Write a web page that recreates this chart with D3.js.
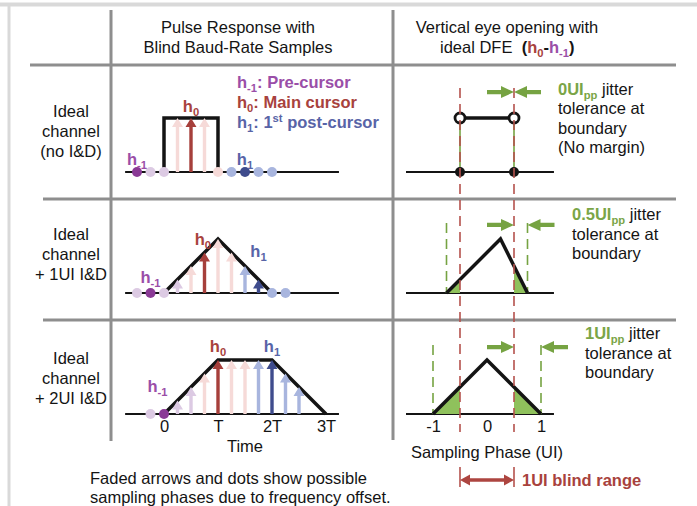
<!DOCTYPE html>
<html><head><meta charset="utf-8">
<script src="https://cdn.jsdelivr.net/npm/d3@7"></script>
<style>
html,body{margin:0;padding:0;background:#fff;}
svg{display:block;font-family:Arial,"Liberation Sans",Helvetica,sans-serif;}
</style></head><body>
<svg id="chart" width="697" height="506"></svg>
<script>
// ---------------- data ----------------
const rowLabels = [
  ["Ideal", "channel", "(no I&D)"],
  ["Ideal", "channel", "+ 1UI I&D"],
  ["Ideal", "channel", "+ 2UI I&D"]
];

// pulse responses (time in T, amplitude normalised to main cursor)
const pulseShape1 = [[0, 0], [0, 1], [1, 1], [1, 0]];
const pulseShape2 = [[0, 0], [1, 1], [2, 0]];
const pulseShape3 = [[0, 0], [1, 1], [2, 1], [3, 0]];

// baud-rate samples: time, value, role (F = possible phase under frequency offset)
const sampleTimes1  = [-0.5, -0.25, 0, 0.25, 0.5, 0.75, 1, 1.25, 1.5, 1.75, 2];
const sampleValues1 = [0, 0, 0, 1, 1, 1, 0, 0, 0, 0, 0];
const sampleRoles1  = ["pre", "preF", "preF", "mainF", "main", "mainF", "mainF", "postF", "post", "postF", "postF"];

const sampleTimes2  = [-0.5, -0.25, 0, 0.25, 0.5, 0.75, 1, 1.25, 1.5, 1.75, 2, 2.25];
const sampleValues2 = [0, 0, 0, 0.25, 0.5, 0.75, 1, 0.75, 0.5, 0.25, 0, 0];
const sampleRoles2  = ["preF", "pre", "preF", "preF", "mainF", "main", "mainF", "mainF", "postF", "post", "postF", "postF"];

const sampleTimes3  = [-0.25, 0, 0.25, 0.5, 0.75, 1, 1.25, 1.5, 1.75, 2, 2.25, 2.5];
const sampleValues3 = [0, 0, 0.25, 0.5, 0.75, 1, 1, 1, 1, 1, 0.75, 0.5];
const sampleRoles3  = ["preF", "pre", "preF", "preF", "mainF", "main", "mainF", "mainF", "postF", "post", "postF", "postF"];

// cursor label anchors [time, value]
const cursorLabelPos1 = {pre: [-0.5, 0.13], main: [0.5, 1.11], post: [1.5, 0.13]};
const cursorLabelPos2 = {pre: [-0.25, 0.185], main: [0.72, 0.89], post: [1.75, 0.67]};
const cursorLabelPos3 = {pre: [-0.12, 0.41], main: [1.0, 1.15], post: [2.0, 1.15]};

const timeTicks = [0, 1, 2, 3];
const timeTickLabels = ["0", "T", "2T", "3T"];

// vertical eye opening (h0 - h-1) versus sampling phase in UI
const eyeOpen1 = [[-0.5, 1], [0.5, 1]];
const eyeShape2 = [[-0.75, 0], [0.25, 1], [0.75, 0]];
const eyeShape3 = [[-1, 0], [0, 1], [1, 0]];
const marginArea2 = [[[-0.75, 0], [-0.5, 0.25], [-0.5, 0]], [[0.5, 0], [0.5, 0.5], [0.75, 0]]];
const marginArea3 = [[[-1, 0], [-0.5, 0.5], [-0.5, 0]], [[0.5, 0], [0.5, 0.5], [1, 0]]];
const jitterTolerance = [0, 0.5, 1];          // UIpp
const toleranceLabels = ["0UI", "0.5UI", "1UI"];
const blindRange = [-0.5, 0.5];
const phaseTicks = [-1, 0, 1];
const phaseTickLabels = ["-1", "0", "1"];

// ---------------- layout ----------------
const INK = "#141414", GRID = "#8e8e8e", FRAME = "#d9d9d9";
const FS = 16.5;
const C = {
  pre: "#8a3a96", preF: "#dccae3", main: "#a63f3b", mainF: "#f6dad8",
  post: "#3f4c8d", postF: "#a8b5de",
  preText: "#9a4ea8", mainText: "#a8423d", postText: "#5864a7",
  green: "#76a342", greenText: "#7aa547", shade: "#8fc15c", redDash: "#b5524d"
};
const rowBase = [172, 293, 414];
const AMP = 54;
const xT = d3.scaleLinear().domain([0, 3]).range([164, 326]);
const xU = d3.scaleLinear().domain([-1, 1]).range([433, 541]);
const yRow = i => d3.scaleLinear().domain([0, 1]).range([rowBase[i], rowBase[i] - AMP]);

const svg = d3.select("#chart");

function rich(sel, x, y, parts, base) {
  const size = base.size || FS;
  const t = sel.append("text").attr("x", x).attr("y", y)
    .attr("font-size", size).attr("font-weight", base.weight || "normal")
    .attr("fill", base.fill || INK).style("white-space", "pre");
  if (base.anchor) t.attr("text-anchor", base.anchor);
  let shift = 0;
  parts.forEach(p => {
    const s = typeof p === "string" ? {t: p} : p;
    const target = s.sub ? 4 : s.sup ? -6 : 0;
    const ts = t.append("tspan").text(s.t).attr("dy", target - shift);
    shift = target;
    if (s.sub || s.sup) ts.attr("font-size", size * 0.68);
    if (s.fill) ts.attr("fill", s.fill);
    if (s.weight) ts.attr("font-weight", s.weight);
  });
  return t;
}

function hArrow(sel, x0, x1, y, o) {
  const d = Math.sign(x1 - x0), xh = x1 - d * o.head;
  const pts = [[x0, y - o.shaft], [xh, y - o.shaft], [xh, y - o.wing], [x1, y],
               [xh, y + o.wing], [xh, y + o.shaft], [x0, y + o.shaft]];
  sel.append("polygon").attr("points", pts.map(p => p.join(",")).join(" ")).attr("fill", o.color);
}
function vArrow(sel, x, y0, y1, o) {
  const yh = y1 + o.head;
  const pts = [[x - o.shaft, y0], [x - o.shaft, yh], [x - o.wing, yh], [x, y1],
               [x + o.wing, yh], [x + o.shaft, yh], [x + o.shaft, y0]];
  sel.append("polygon").attr("points", pts.map(p => p.join(",")).join(" ")).attr("fill", o.color);
}

// ---------------- frame & grid ----------------
svg.append("line").attr("x1", 0).attr("x2", 697).attr("y1", 4.5).attr("y2", 4.5)
  .attr("stroke", FRAME).attr("stroke-width", 4);
svg.append("line").attr("x1", 9).attr("x2", 9).attr("y1", 4).attr("y2", 506)
  .attr("stroke", FRAME).attr("stroke-width", 3);
[[111, 10, 111, 441], [393, 10, 393, 440], [30, 65, 676, 65], [43, 199, 676, 199], [43, 320, 676, 320]]
  .forEach(([x1, y1, x2, y2]) => svg.append("line").attr("x1", x1).attr("y1", y1).attr("x2", x2).attr("y2", y2)
    .attr("stroke", GRID).attr("stroke-width", 3));

// ---------------- column headers ----------------
rich(svg, 238, 33, ["Pulse Response with"], {anchor: "middle"});
rich(svg, 238, 52.5, ["Blind Baud-Rate Samples"], {anchor: "middle"});
rich(svg, 507, 33, ["Vertical eye opening with"], {anchor: "middle"});
rich(svg, 440, 53, [
  "ideal DFE  ", {t: "(", weight: "bold"}, {t: "h", weight: "bold", fill: C.mainText},
  {t: "0", sub: true, weight: "bold", fill: C.mainText}, {t: "-", weight: "bold"},
  {t: "h", weight: "bold", fill: C.preText}, {t: "-1", sub: true, weight: "bold", fill: C.preText},
  {t: ")", weight: "bold"}
], {});

// ---------------- row labels ----------------
const rowLabelTop = [117, 240, 364];
rowLabels.forEach((lines, i) => lines.forEach((s, k) =>
  rich(svg, 71, rowLabelTop[i] + k * 19.8, [s], {anchor: "middle"})));

// ---------------- pulse responses ----------------
const pulses = [
  {shape: pulseShape1, t: sampleTimes1, v: sampleValues1, r: sampleRoles1, lab: cursorLabelPos1},
  {shape: pulseShape2, t: sampleTimes2, v: sampleValues2, r: sampleRoles2, lab: cursorLabelPos2},
  {shape: pulseShape3, t: sampleTimes3, v: sampleValues3, r: sampleRoles3, lab: cursorLabelPos3}
];
pulses.forEach((p, i) => {
  const y = yRow(i);
  const g = svg.append("g");
  g.append("line").attr("x1", xT(-0.72)).attr("x2", xT(3.24)).attr("y1", y(0)).attr("y2", y(0))
    .attr("stroke", INK).attr("stroke-width", 2);
  g.append("path").attr("d", d3.line().x(d => xT(d[0])).y(d => y(d[1]))(p.shape))
    .attr("fill", "none").attr("stroke", INK).attr("stroke-width", 3.5).attr("stroke-linejoin", "miter");
  p.t.forEach((t, j) => {
    if (p.v[j] > 0) vArrow(g, xT(t), y(0), y(p.v[j]), {shaft: 1.7, wing: 5.5, head: 9, color: C[p.r[j]]});
  });
  p.t.forEach((t, j) => {
    if (p.v[j] === 0) g.append("circle").attr("cx", xT(t)).attr("cy", y(0)).attr("r", 5).attr("fill", C[p.r[j]]);
  });
  const L = p.lab;
  rich(g, xT(L.pre[0]), y(L.pre[1]), ["h", {t: "-1", sub: true}], {anchor: "middle", weight: "bold", fill: C.preText});
  rich(g, xT(L.main[0]), y(L.main[1]), ["h", {t: "0", sub: true}], {anchor: "middle", weight: "bold", fill: C.mainText});
  rich(g, xT(L.post[0]), y(L.post[1]), ["h", {t: "1", sub: true}], {anchor: "middle", weight: "bold", fill: C.postText});
});

// legend of cursors
rich(svg, 237, 88, ["h", {t: "-1", sub: true}, ": Pre-cursor"], {weight: "bold", fill: C.preText});
rich(svg, 237, 108, ["h", {t: "0", sub: true}, ": Main cursor"], {weight: "bold", fill: C.mainText});
rich(svg, 237, 127.5, ["h", {t: "1", sub: true}, ": 1", {t: "st", sup: true}, " post-cursor"], {weight: "bold", fill: C.postText});

// time axis
const tAxis = svg.append("g").attr("transform", `translate(0,${rowBase[2]})`)
  .call(d3.axisBottom(xT).tickValues(timeTicks).tickFormat((d, i) => timeTickLabels[i]).tickSize(0));
tAxis.select(".domain").remove();
tAxis.selectAll("text").attr("y", 18).attr("dy", 0).attr("font-size", FS)
  .attr("font-family", "Arial, 'Liberation Sans', sans-serif").attr("fill", INK);
rich(svg, 245, 452, ["Time"], {anchor: "middle"});

// ---------------- eye openings ----------------
const eyeArrowLevel = [1.48, 1.26, 1.24];
const eyeGroup = svg.append("g");

// row 1: ideal channel, zero-width eye at the boundary
{
  const y = yRow(0), g = eyeGroup;
  g.append("line").attr("x1", xU(-1.5)).attr("x2", xU(1.24)).attr("y1", y(0)).attr("y2", y(0))
    .attr("stroke", INK).attr("stroke-width", 2);
  [-0.5, 0.5].forEach(u => g.append("line").attr("x1", xU(u)).attr("x2", xU(u))
    .attr("y1", y(1) + 5).attr("y2", y(0) - 5).attr("stroke", C.green).attr("stroke-width", 1.6));
  g.append("line").attr("x1", xU(eyeOpen1[0][0])).attr("x2", xU(eyeOpen1[1][0]))
    .attr("y1", y(eyeOpen1[0][1])).attr("y2", y(eyeOpen1[1][1])).attr("stroke", INK).attr("stroke-width", 3.5);
  eyeOpen1.forEach(d => g.append("circle").attr("cx", xU(d[0])).attr("cy", y(d[1])).attr("r", 5)
    .attr("fill", "#fff").attr("stroke", INK).attr("stroke-width", 2.8));
  eyeOpen1.forEach(d => g.append("circle").attr("cx", xU(d[0])).attr("cy", y(0)).attr("r", 5).attr("fill", INK));
}

// rows 2 and 3: triangular eyes with margin beyond the blind range
[[eyeShape2, marginArea2], [eyeShape3, marginArea3]].forEach(([shape, areas], k) => {
  const i = k + 1, y = yRow(i), g = eyeGroup;
  g.append("line").attr("x1", xU(-1.5)).attr("x2", xU(1.24)).attr("y1", y(0)).attr("y2", y(0))
    .attr("stroke", INK).attr("stroke-width", 2);
  areas.forEach(a => g.append("path").attr("d", d3.line().x(d => xU(d[0])).y(d => y(d[1]))(a) + "Z")
    .attr("fill", C.shade));
  const bound = 0.5 + jitterTolerance[i] / 2;
  [-bound, bound].forEach(u => g.append("line").attr("x1", xU(u)).attr("x2", xU(u))
    .attr("y1", y(eyeArrowLevel[i]) - 2).attr("y2", y(0))
    .attr("stroke", C.green).attr("stroke-width", 1.6).attr("stroke-dasharray", "10,6"));
  g.append("path").attr("d", d3.line().x(d => xU(d[0])).y(d => y(d[1]))(shape))
    .attr("fill", "none").attr("stroke", INK).attr("stroke-width", 3.5).attr("stroke-linejoin", "miter");
});

// blind-range boundaries
blindRange.forEach(u => eyeGroup.append("line").attr("x1", xU(u)).attr("x2", xU(u))
  .attr("y1", 88).attr("y2", 432).attr("stroke", C.redDash).attr("stroke-width", 1.6)
  .attr("stroke-dasharray", "10,6"));

// jitter tolerance arrows and notes
const noteX = [558, 572, 585];
const noteTop = [94.5, 220, 339];
const noteLines = [["tolerance at", "boundary", "(No margin)"], ["tolerance at", "boundary"], ["tolerance at", "boundary"]];
jitterTolerance.forEach((tol, i) => {
  const y = yRow(i), ay = y(eyeArrowLevel[i]);
  const bound = 0.5 + tol / 2;
  const opt = {shaft: 2.1, wing: 6, head: 13, color: C.green};
  hArrow(eyeGroup, xU(0), xU(0.5), ay, opt);
  hArrow(eyeGroup, xU(bound + 0.5), xU(bound), ay, opt);
  rich(svg, noteX[i], noteTop[i], [
    {t: toleranceLabels[i], weight: "bold", fill: C.greenText},
    {t: "pp", sub: true, weight: "bold", fill: C.greenText}, " jitter"
  ], {});
  noteLines[i].forEach((s, k) => rich(svg, noteX[i], noteTop[i] + (k + 1) * 19.6, [s], {}));
});

// sampling-phase axis
const pAxis = svg.append("g").attr("transform", `translate(0,${rowBase[2]})`)
  .call(d3.axisBottom(xU).tickValues(phaseTicks).tickFormat((d, i) => phaseTickLabels[i]).tickSize(0));
pAxis.select(".domain").remove();
pAxis.selectAll("text").attr("y", 18).attr("dy", 0).attr("font-size", FS)
  .attr("font-family", "Arial, 'Liberation Sans', sans-serif").attr("fill", INK);
rich(svg, 487, 458, ["Sampling Phase (UI)"], {anchor: "middle"});

// blind range bracket
blindRange.forEach(u => svg.append("line").attr("x1", xU(u)).attr("x2", xU(u)).attr("y1", 467).attr("y2", 487)
  .attr("stroke", C.redDash).attr("stroke-width", 1.6));
{
  const x0 = xU(blindRange[0]), x1 = xU(blindRange[1]), yb = 480, hl = 10, w = 5.5, s = 1.8;
  const pts = [[x0, yb], [x0 + hl, yb - w], [x0 + hl, yb - s], [x1 - hl, yb - s], [x1 - hl, yb - w], [x1, yb],
               [x1 - hl, yb + w], [x1 - hl, yb + s], [x0 + hl, yb + s], [x0 + hl, yb + w]];
  svg.append("polygon").attr("points", pts.map(p => p.join(",")).join(" ")).attr("fill", "#ad4540");
}
rich(svg, 522, 486, ["1UI blind range"], {weight: "bold", fill: C.mainText});

// footnote
rich(svg, 90, 484, ["Faded arrows and dots show possible"], {});
rich(svg, 90, 503, ["sampling phases due to frequency offset."], {});
</script>
</body></html>
